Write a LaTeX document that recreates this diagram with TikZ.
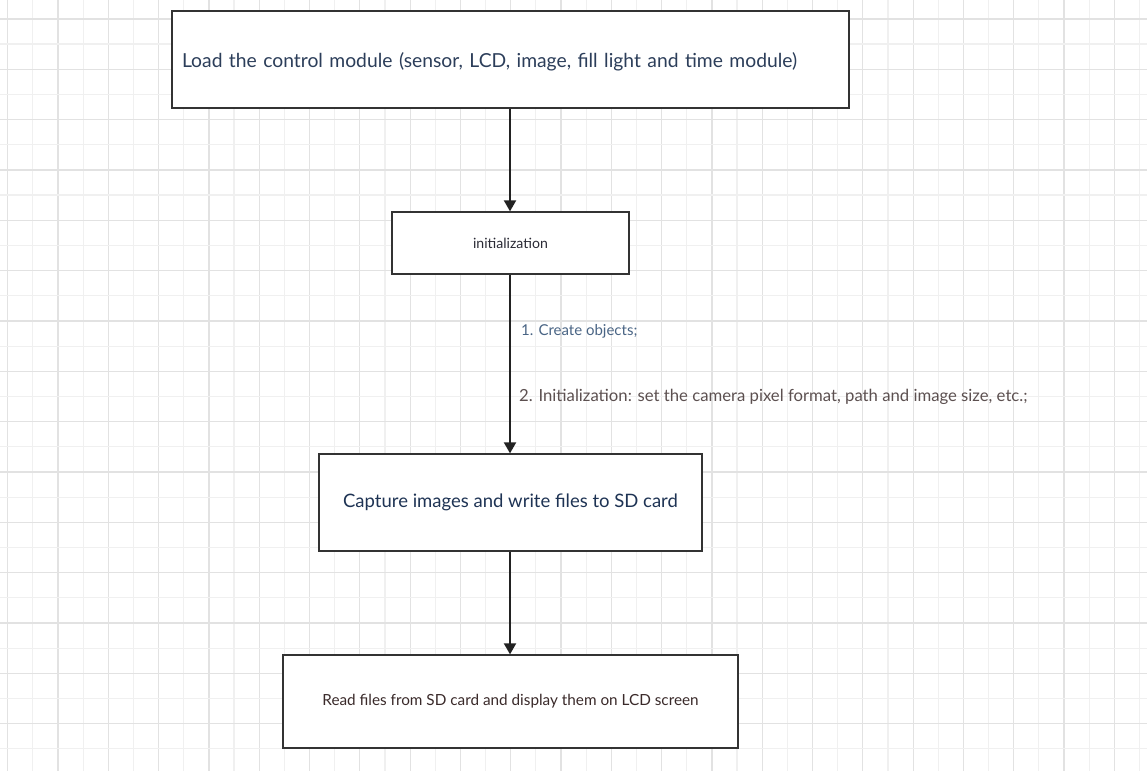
\documentclass[tikz,border=0pt]{standalone}
\usepackage{fontspec}
\setmainfont{Lato}
\usetikzlibrary{arrows.meta}
\definecolor{gridminor}{HTML}{F0F0F0}
\definecolor{gridmajor}{HTML}{E2E2E2}
\definecolor{boxline}{HTML}{333333}
\definecolor{arrowline}{HTML}{222222}
\definecolor{tone}{HTML}{2C3E5A}
\definecolor{ttwo}{HTML}{2A2A35}
\definecolor{lone}{HTML}{4A6585}
\definecolor{ltwo}{HTML}{5C5050}
\definecolor{tthree}{HTML}{1E3354}
\definecolor{tfour}{HTML}{3A2A2A}
\tikzset{
  flowbox/.style={draw=boxline, line width=1.3pt, fill=white, rectangle, inner sep=0pt},
  flowarrow/.style={draw=arrowline, line width=2pt, -{Triangle[width=12pt,length=11pt]}},
  steplabel/.style={anchor=west, inner sep=0pt},
}
\begin{document}
\begin{tikzpicture}[x=1pt,y=-1pt]
\useasboundingbox (0,0) rectangle (1147,771);
\fill[white] (0,0) rectangle (1147,771);
% grid
\foreach \i in {0,...,45} {
  \pgfmathtruncatemacro{\ev}{mod(\i,2)}
  \ifnum\ev=0
    \draw[gridmajor, line width=1.2pt] ({7.7+25.15*\i},0) -- ({7.7+25.15*\i},771);
  \else
    \draw[gridminor, line width=1.2pt] ({7.7+25.15*\i},0) -- ({7.7+25.15*\i},771);
  \fi
}
\foreach \i in {0,...,30} {
  \pgfmathtruncatemacro{\ev}{mod(\i,2)}
  \ifnum\ev=0
    \draw[gridmajor, line width=1.2pt] (0,{18.9+25.17*\i}) -- (1147,{18.9+25.17*\i});
  \else
    \draw[gridminor, line width=1.2pt] (0,{18.9+25.17*\i}) -- (1147,{18.9+25.17*\i});
  \fi
}
% boxes
\node[flowbox, minimum width=677pt, minimum height=97pt, text width=657pt, inner xsep=10pt, align=left,
      font=\fontsize{19.3}{23}\selectfont, text=tone] (load) at (510.5,59.5)
  {\raisebox{-7.5pt}[0pt][0pt]{Load the control module (sensor, LCD, image, fill light and time module)}};
\node[flowbox, minimum width=237pt, minimum height=62pt, font=\fontsize{14.1}{17}\selectfont, text=ttwo]
  (init) at (510.5,243) {initialization};
\node[flowbox, minimum width=383pt, minimum height=97pt, font=\fontsize{18.5}{22}\selectfont, text=tthree]
  (capture) at (510.5,502.5) {Capture images and write files to SD card};
\node[flowbox, minimum width=455pt, minimum height=93pt, font=\fontsize{15.3}{18}\selectfont, text=tfour]
  (read) at (510.5,701.5) {Read files from SD card and display them on LCD screen};
% arrows
\draw[flowarrow] (load.south -| 510,0) -- (init.north -| 510,0);
\draw[flowarrow] (init.south -| 510,0) -- (capture.north -| 510,0);
\draw[flowarrow] (capture.south -| 510,0) -- (read.north -| 510,0);
% labels
\node[steplabel, font=\fontsize{15}{18}\selectfont, text=lone] (lab1) at (521,331.5) {1. Create objects;};
\node[steplabel, font=\fontsize{16.7}{20}\selectfont, text=ltwo] (lab2) at (519,396.5)
  {2. Initialization: set the camera pixel format, path and image size, etc.;};
\end{tikzpicture}
\end{document}
